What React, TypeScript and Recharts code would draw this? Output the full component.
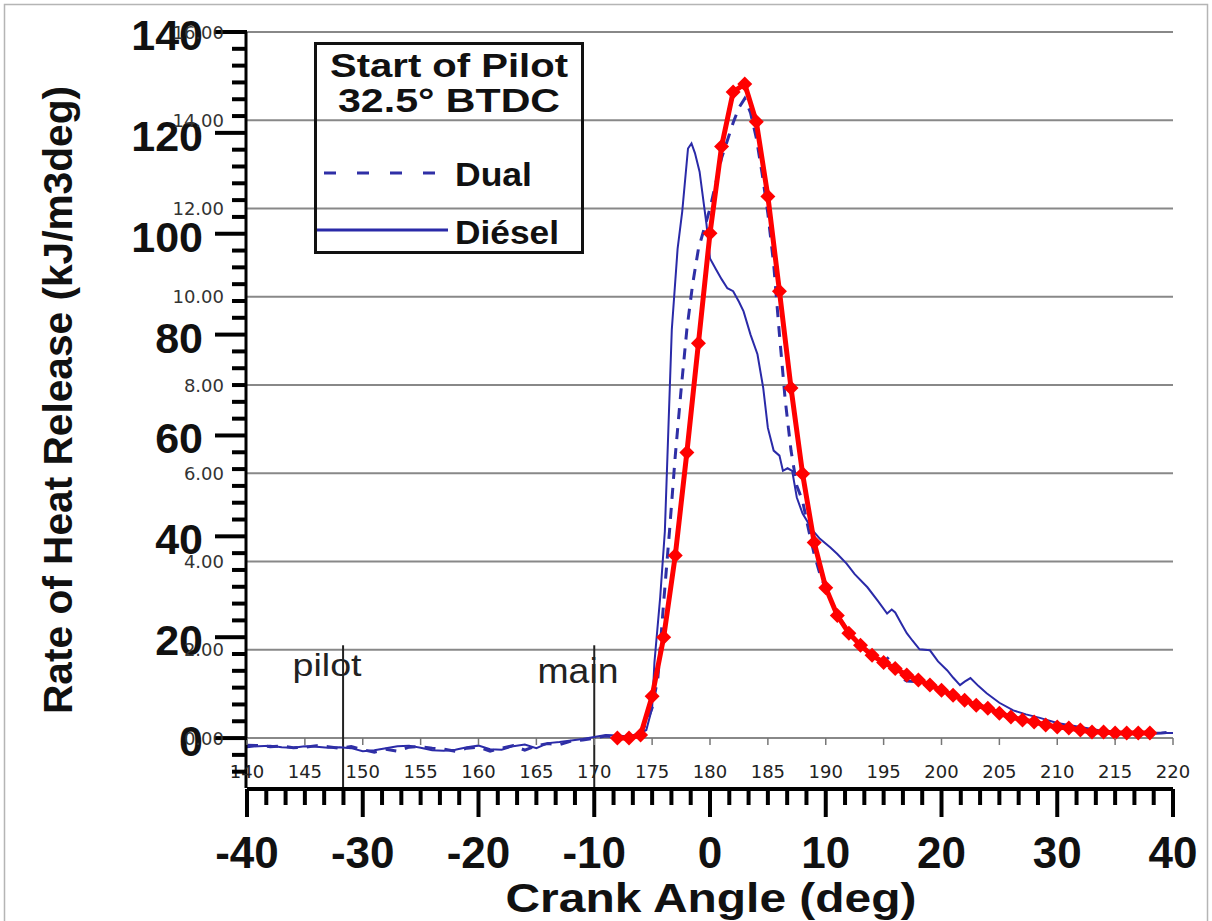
import React from "react";
import { LineChart, Line, XAxis, YAxis, CartesianGrid } from "recharts";

// crank angle in the 140..220 frame, rate of heat release in kJ/m3deg
const dieselX = [
  140, 141, 142, 143, 144, 145, 146, 147, 148, 149, 150, 151, 152, 153, 154, 155, 156, 157, 158, 159,
  160, 161, 162, 163, 164, 165, 166, 167, 168, 169, 170, 171, 172, 173, 174, 174.5, 175, 175.2, 175.7,
  176.1, 176.4, 176.7, 177.2, 177.6, 178.1, 178.4, 178.7, 179.1, 179.7, 180, 180.5, 181, 181.5, 182,
  182.5, 182.9, 183.5, 184.1, 184.6, 185, 185.5, 186, 186.3, 186.7, 187.1, 187.5, 188, 188.9, 189.5,
  190.4, 191, 191.8, 192.5, 193.6, 194.5, 195.3, 195.7, 196, 196.5, 197, 197.5, 198.1, 199, 199.7,
  200.5, 201, 201.6, 202, 202.5, 203.2, 203.9, 205, 206.2, 207.3, 208.5, 210, 212, 213.5, 214.8,
  216.3, 217.8, 220,
];
const dieselY = [
  -1.8, -1.6, -1.5, -1.8, -1.9, -1.6, -1.7, -1.9, -1.8, -2.0, -2.6, -2.4, -2.0, -1.6, -1.5, -1.9, -2.4,
  -2.5, -2.3, -1.8, -1.5, -2.2, -2.3, -1.6, -1.3, -2.0, -1.0, -0.8, -0.5, -0.2, 0.2, 0.6, 0.5, 0.3, 1.0,
  1.6, 6, 15, 28, 41, 61, 81, 97, 104.4, 116.9, 117.9, 116, 112.3, 101.8, 95.1, 93, 91, 89.2, 88.6,
  86.5, 84.6, 80, 76.1, 69.4, 61.5, 57, 56, 53, 53.5, 53, 47.7, 44.5, 41.1, 39.5, 37.8, 36.5, 34.6,
  32.5, 29.9, 27.2, 24.7, 25.5, 24.9, 22.8, 20.8, 19.3, 17.6, 17.4, 15.2, 13.4, 12, 10.5, 11.2, 11.9,
  10.3, 8.9, 7.0, 5.5, 4.7, 4.0, 3.0, 2.2, 1.6, 1.2, 1.1, 1.0, 1.0,
];

const dualX = [
  140, 141, 142, 143, 144, 145, 146, 147, 148, 149, 150, 151, 152, 153, 154, 155, 156, 157, 158, 159,
  160, 161, 162, 163, 164, 165, 166, 167, 168, 169, 170, 171, 172, 173, 174, 174.5, 175, 175.5, 176,
  176.5, 177, 177.5, 178, 178.5, 179, 179.5, 180, 180.5, 181, 181.5, 182, 182.5, 183, 183.5, 184,
  184.5, 185, 185.5, 186, 186.5, 187, 187.5, 188, 188.5, 189, 189.5, 190, 191, 192, 193, 194, 195,
  195.5, 196, 196.5, 197, 198, 199, 200, 202, 204, 206, 208, 210, 212, 214, 216, 218, 219, 220,
];
const dualY = [
  -1.4, -1.5, -1.7, -1.6, -1.9, -1.8, -1.5, -1.7, -2.0, -1.7, -2.3, -2.8, -2.2, -2.6, -1.8, -1.7, -2.0,
  -2.2, -2.6, -2.0, -1.8, -2.6, -2.0, -1.5, -2.4, -1.5, -1.1, -1.3, -0.6, -0.4, 0.0, 0.4, 0.2, 0.3, 0.8,
  3, 6, 12, 27, 41, 56, 69, 81, 90, 97, 101, 105, 110, 115, 118.5, 122, 125, 126.8, 124, 119, 112,
  104, 94, 80, 67, 57, 50, 47, 41.5, 36.5, 32.5, 29.5, 24.5, 21, 18.5, 16.5, 15.0, 16.2, 14.5, 12, 11.3,
  11.2, 10.3, 9.3, 7.4, 5.8, 4.2, 3.1, 2.1, 1.5, 1.1, 0.9, 0.9, 1.0, 1.2,
];

const redX = [
  172, 173, 174, 175, 176, 177, 178, 179, 180, 181, 182, 183, 184, 185, 186, 187, 188, 189, 190, 191,
  192, 193, 194, 195, 196, 197, 198, 199, 200, 201, 202, 203, 204, 205, 206, 207, 208, 209, 210, 211,
  212, 213, 214, 215, 216, 217, 218,
];
const redY = [
  0, 0, 0.6, 8.3, 20.0, 36.2, 56.6, 78.3, 100.1, 117.3, 128.1, 129.7, 122.2, 107.4, 88.6, 69.4, 52.4,
  38.8, 29.8, 24.3, 20.8, 18.4, 16.4, 15.0, 13.8, 12.5, 11.5, 10.5, 9.5, 8.5, 7.5, 6.5, 5.9, 4.9, 4.2,
  3.6, 3.2, 2.6, 2.2, 2.0, 1.6, 1.2, 1.2, 1.0, 1.0, 1.0, 1.0,
];

const degTicks = [140, 145, 150, 155, 160, 165, 170, 175, 180, 185, 190, 195, 200, 205, 210, 215, 220];
const crankMajor = [-40, -30, -20, -10, 0, 10, 20, 30, 40];
const rhrMajor = [-20, 0, 20, 40, 60, 80, 100, 120, 140];
const gridTicks = [0, 2, 4, 6, 8, 10, 12, 14, 16];

// the left axis runs below zero down to the crank-angle axis
const RHR_MIN = -9.9;
const RHR_MAX = 140;
const GRID_MAX = 16;
const GRID_MIN = (RHR_MIN * GRID_MAX) / RHR_MAX;
const ZERO_Y = 738; // pixel row of the 140..220 axis

// injection markers (crank angle, from the bottom axis up to the label)
const pilotAngle = -31.7;
const mainAngle = -10;
const markerSpan = [RHR_MIN, 18.4];
const pilotData = markerSpan.map((v) => ({ x: pilotAngle, v }));
const mainData = markerSpan.map((v) => ({ x: mainAngle, v }));

// minor ticks: 6 per major step
const crankTicks: number[] = [];
crankMajor.slice(0, -1).forEach((m) => {
  for (let k = 0; k < 6; k++) crankTicks.push(m + (k * 10) / 6);
});
crankTicks.push(40);
const rhrTicks: number[] = [];
rhrMajor.slice(0, -1).forEach((m) => {
  for (let k = 0; k < 6; k++) {
    const t = m + (k * 20) / 6;
    if (t >= RHR_MIN) rhrTicks.push(t);
  }
});
rhrTicks.push(140);

const zip = (xs: number[], ys: number[]) => xs.map((x, i) => ({ x, v: ys[i] }));
const dieselData = zip(dieselX, dieselY);
const dualData = zip(dualX, dualY);
const redData = zip(redX, redY);

const BOLD = "'Liberation Sans', Arial, sans-serif";
const SMALL = "'DejaVu Sans', sans-serif";

const isMajor = (v: number, step: number) => Math.abs(v - Math.round(v / step) * step) < 1e-6;

function CrankTick(props: any) {
  const { x, y, payload } = props;
  const major = isMajor(payload.value, 10);
  return (
    <g>
      <line x1={x} x2={x} y1={y} y2={y + (major ? 28 : 16)} stroke="#000" strokeWidth={4} />
      {major && (
        <text x={x} y={y + 79} textAnchor="middle" fontFamily={BOLD} fontWeight="bold" fontSize={44} fill="#111">
          {Math.round(payload.value)}
        </text>
      )}
    </g>
  );
}

// the 140..220 scale sits on the zero gridline, above the crank-angle axis
function DegTick(props: any) {
  const { x, payload } = props;
  return (
    <g>
      <line x1={x} x2={x} y1={ZERO_Y} y2={ZERO_Y + 7} stroke="#777" strokeWidth={1.5} />
      <text x={x} y={ZERO_Y + 40} textAnchor="middle" fontFamily={SMALL} fontSize={18} fill="#222">
        {payload.value}
      </text>
    </g>
  );
}

function RhrTick(props: any) {
  const { y, payload } = props;
  const x = 247;
  const major = isMajor(payload.value, 20);
  return (
    <g>
      <line x1={x - (major ? 32 : 15)} x2={x} y1={y} y2={y} stroke="#000" strokeWidth={4} />
      {major && (
        <text x={x - 44} y={y + 18} textAnchor="end" fontFamily={BOLD} fontWeight="bold" fontSize={43} fill="#111">
          {Math.round(payload.value)}
        </text>
      )}
    </g>
  );
}

function GridTick(props: any) {
  const { y, payload } = props;
  const x = 247;
  return (
    <text x={x - 23} y={y + 6.5} textAnchor="end" fontFamily={SMALL} fontSize={18} fill="#333">
      {payload.value.toFixed(2)}
    </text>
  );
}

function Diamond(props: any) {
  const { cx, cy } = props;
  if (cx == null || cy == null) return null;
  const r = 7.5;
  return <polygon points={`${cx},${cy - r} ${cx + r},${cy} ${cx},${cy + r} ${cx - r},${cy}`} fill="#ff0000" stroke="none" />;
}

export default function App() {
  return (
    <div style={{ position: "absolute", left: 0, top: 0, width: 1212, height: 921, background: "#fff", overflow: "hidden" }}>
      <LineChart width={1212} height={921} margin={{ top: 32, right: 39, bottom: 8, left: 0 }}>
        <CartesianGrid xAxisId="a_deg" yAxisId="grid" vertical={false} stroke="#888" strokeWidth={2} />
        <XAxis
          xAxisId="a_deg"
          dataKey="x"
          type="number"
          domain={[140, 220]}
          ticks={degTicks}
          height={1}
          axisLine={false}
          tickLine={false}
          tickSize={0}
          tickMargin={0}
          tick={DegTick}
          interval={0}
        />
        <XAxis
          xAxisId="b_crank"
          dataKey="x"
          type="number"
          domain={[-40, 40]}
          ticks={crankTicks}
          height={124}
          axisLine={{ stroke: "#000", strokeWidth: 4 }}
          tickLine={false}
          tickSize={0}
          tickMargin={0}
          tick={CrankTick}
          interval={0}
        />
        <YAxis
          yAxisId="rhr"
          type="number"
          domain={[RHR_MIN, RHR_MAX]}
          allowDataOverflow
          ticks={rhrTicks}
          width={246}
          axisLine={{ stroke: "#000", strokeWidth: 3 }}
          tickLine={false}
          tickSize={0}
          tickMargin={0}
          tick={RhrTick}
          interval={0}
        />
        <YAxis
          yAxisId="grid"
          type="number"
          domain={[GRID_MIN, GRID_MAX]}
          allowDataOverflow
          ticks={gridTicks}
          width={1}
          axisLine={false}
          tickLine={false}
          tickSize={0}
          tickMargin={0}
          tick={GridTick}
          interval={0}
        />
        <Line xAxisId="b_crank" yAxisId="rhr" data={pilotData} dataKey="v" stroke="#222" strokeWidth={2} dot={false} isAnimationActive={false} />
        <Line xAxisId="b_crank" yAxisId="rhr" data={mainData} dataKey="v" stroke="#222" strokeWidth={2} dot={false} isAnimationActive={false} />
        <Line
          xAxisId="a_deg"
          yAxisId="rhr"
          data={dieselData}
          dataKey="v"
          type="linear"
          stroke="#2a2aa8"
          strokeWidth={2}
          dot={false}
          isAnimationActive={false}
        />
        <Line
          xAxisId="a_deg"
          yAxisId="rhr"
          data={dualData}
          dataKey="v"
          type="linear"
          stroke="#2f2fa6"
          strokeWidth={3}
          strokeDasharray="11 9"
          dot={false}
          isAnimationActive={false}
        />
        <Line
          xAxisId="a_deg"
          yAxisId="rhr"
          data={redData}
          dataKey="v"
          type="linear"
          stroke="#ff0000"
          strokeWidth={5}
          dot={Diamond}
          isAnimationActive={false}
        />
      </LineChart>
      <svg width={1212} height={921} style={{ position: "absolute", left: 0, top: 0, pointerEvents: "none" }}>
        <rect x={4.5} y={4.5} width={1203} height={1000} fill="none" stroke="#b5b5b5" strokeWidth={1.5} />
        <rect x={315.5} y={43.5} width={267} height={209} fill="none" stroke="#111" strokeWidth={3} />
        <text x={449} y={77} textAnchor="middle" fontFamily={BOLD} fontWeight="bold" fontSize={34} fill="#111" textLength={238} lengthAdjust="spacingAndGlyphs">
          Start of Pilot
        </text>
        <text x={449} y={112} textAnchor="middle" fontFamily={BOLD} fontWeight="bold" fontSize={34} fill="#111" textLength={222} lengthAdjust="spacingAndGlyphs">
          32.5° BTDC
        </text>
        <line x1={317} x2={437} y1={173} y2={173} stroke="#2f2fa6" strokeWidth={3} strokeDasharray="12 21" strokeDashoffset={26} />
        <text x={455} y={186} fontFamily={BOLD} fontWeight="bold" fontSize={34} fill="#111" textLength={77} lengthAdjust="spacingAndGlyphs">
          Dual
        </text>
        <line x1={317} x2={448} y1={230} y2={230} stroke="#2a2aa8" strokeWidth={3} />
        <text x={455} y={244} fontFamily={BOLD} fontWeight="bold" fontSize={34} fill="#111" textLength={104} lengthAdjust="spacingAndGlyphs">
          Diésel
        </text>
        <text x={327} y={676} textAnchor="middle" fontFamily={BOLD} fontSize={32} fill="#222" textLength={69} lengthAdjust="spacingAndGlyphs">
          pilot
        </text>
        <text x={578} y={683} textAnchor="middle" fontFamily={BOLD} fontSize={35} fill="#222" textLength={81} lengthAdjust="spacingAndGlyphs">
          main
        </text>
        <text transform="translate(72,400) rotate(-90)" textAnchor="middle" fontFamily={BOLD} fontWeight="bold" fontSize={40} fill="#111" textLength={628} lengthAdjust="spacingAndGlyphs">
          Rate of Heat Release (kJ/m3deg)
        </text>
        <text x={711} y={912} textAnchor="middle" fontFamily={BOLD} fontWeight="bold" fontSize={40} fill="#111" textLength={411} lengthAdjust="spacingAndGlyphs">
          Crank Angle (deg)
        </text>
      </svg>
    </div>
  );
}
